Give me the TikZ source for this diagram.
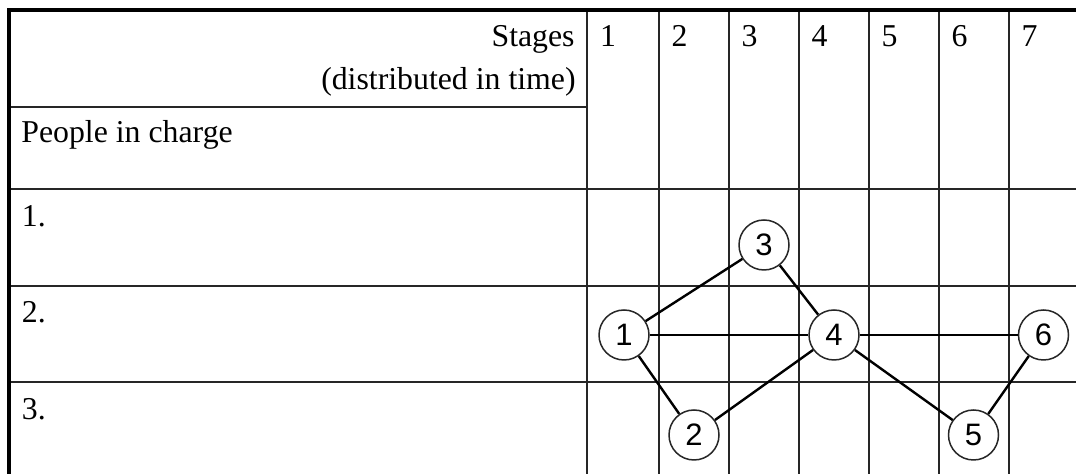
\documentclass[tikz,border=0pt]{standalone}
\usepackage{fontspec}
\setmainfont{Liberation Serif}
\newfontfamily\circfont{Liberation Sans}
\begin{document}
\begin{tikzpicture}[x=0.5pt,y=-0.5pt,
  grid/.style={line width=1pt,draw=black!85},
  border/.style={line width=2.2pt,draw=black},
  lbl/.style={inner sep=0pt,font=\fontsize{15.9}{18}\selectfont},
  stagebox/.style={circle,draw=black!85,line width=0.75pt,fill=white,minimum size=25pt,inner sep=0pt,font=\circfont\fontsize{15.5}{18}\selectfont},
  edge/.style={line width=1.2pt,draw=black}]
\clip (0,0) rectangle (1076,474);
\fill[white] (0,0) rectangle (1076,474);
% grid
\draw[grid] (9,106.7) -- (587.3,106.7);
\foreach \y in {189.3,286,381.7} \draw[grid] (9,\y) -- (1090,\y);
\foreach \x in {587.3,658.7,728.7,798.7,868.7,938.7,1008.7} \draw[grid] (\x,10) -- (\x,490);
% borders
\draw[border] (9,490) -- (9,10) -- (1090,10);
% header texts
\node[lbl,anchor=base east] (stages) at (575,46.5) {Stages};
\node[lbl,anchor=base east] (dist) at (576,90) {(distributed in time)};
\node[lbl,anchor=base west] (people) at (21,142.7) {People in charge};
\node[lbl,anchor=base west] (p1) at (21.5,226.7) {1.};
\node[lbl,anchor=base west] (p2) at (21.5,323) {2.};
\node[lbl,anchor=base west] (p3) at (21.5,419.3) {3.};
\foreach \i/\x in {1/587.3,2/658.7,3/728.7,4/798.7,5/868.7,6/938.7,7/1008.7}
  \node[lbl,anchor=base west] (s\i) at (\x+12.5,46.5) {\i};
% nodes
\node[stagebox] (c1) at (624,335) {1};
\node[stagebox] (c2) at (694,435) {2};
\node[stagebox] (c3) at (764,245) {3};
\node[stagebox] (c4) at (834,335) {4};
\node[stagebox] (c5) at (973.5,435) {5};
\node[stagebox] (c6) at (1043.5,335) {6};
% edges
\draw[edge] (c1) -- (c3);
\draw[edge] (c3) -- (c4);
\draw[edge] (c1) -- (c4);
\draw[edge] (c4) -- (c6);
\draw[edge] (c1) -- (c2);
\draw[edge] (c2) -- (c4);
\draw[edge] (c4) -- (c5);
\draw[edge] (c5) -- (c6);
\end{tikzpicture}
\end{document}
